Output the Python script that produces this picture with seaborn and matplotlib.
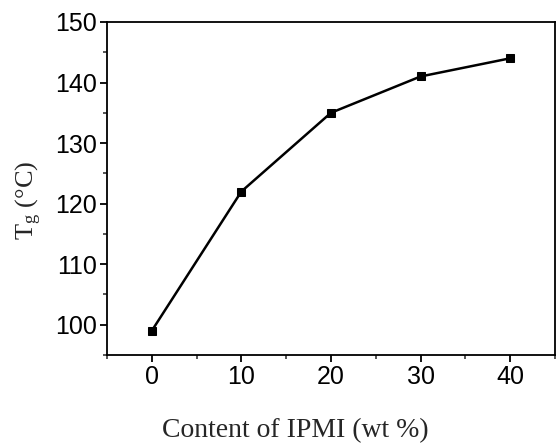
import matplotlib
matplotlib.use("Agg")
import matplotlib.pyplot as plt
import seaborn as sns
import pandas as pd
from matplotlib.ticker import MultipleLocator

content = [0, 10, 20, 30, 40]
tg = [99, 122, 135, 141, 144]

sns.set_style("ticks")
plt.rcParams['font.family'] = ['Liberation Sans', 'DejaVu Sans']
plt.rcParams['mathtext.fontset'] = 'custom'
plt.rcParams['mathtext.rm'] = 'Liberation Serif'
plt.rcParams['mathtext.it'] = 'Liberation Serif:italic'

df = pd.DataFrame({"content": content, "tg": tg})

fig = plt.figure(figsize=(5.56, 4.46), dpi=100)
ax = fig.add_axes([0.1924, 0.204, 0.8056, 0.7467])
sns.lineplot(data=df, x="content", y="tg", ax=ax, color="black", linewidth=1.8,
             marker="s", markersize=6, markeredgecolor="black", markerfacecolor="black")

ax.set_xlim(-5, 45)
ax.set_ylim(95, 150)
ax.xaxis.set_major_locator(MultipleLocator(10))
ax.xaxis.set_minor_locator(MultipleLocator(5))
ax.yaxis.set_major_locator(MultipleLocator(10))
ax.yaxis.set_minor_locator(MultipleLocator(5))
ax.tick_params(axis='both', which='major', direction='out', length=5, width=1.3, labelsize=18, colors='black', pad=2)
ax.tick_params(axis='both', which='minor', direction='out', length=3, width=1.1)
for lab in ax.get_xticklabels() + ax.get_yticklabels():
    lab.set_fontfamily('Liberation Sans')

for s in ax.spines.values():
    s.set_linewidth(1.3)
    s.set_color('black')

ax.set_xlabel("Content of IPMI (wt %)", fontfamily='Liberation Serif', fontsize=20, labelpad=21)
ax.set_ylabel(r"$\mathrm{T_g}$ (°C)", fontfamily='Liberation Serif', fontsize=19, labelpad=8)
ax.xaxis.label.set_x(0.42)
ax.yaxis.label.set_y(0.465)

fig.savefig("out.png", dpi=100)
